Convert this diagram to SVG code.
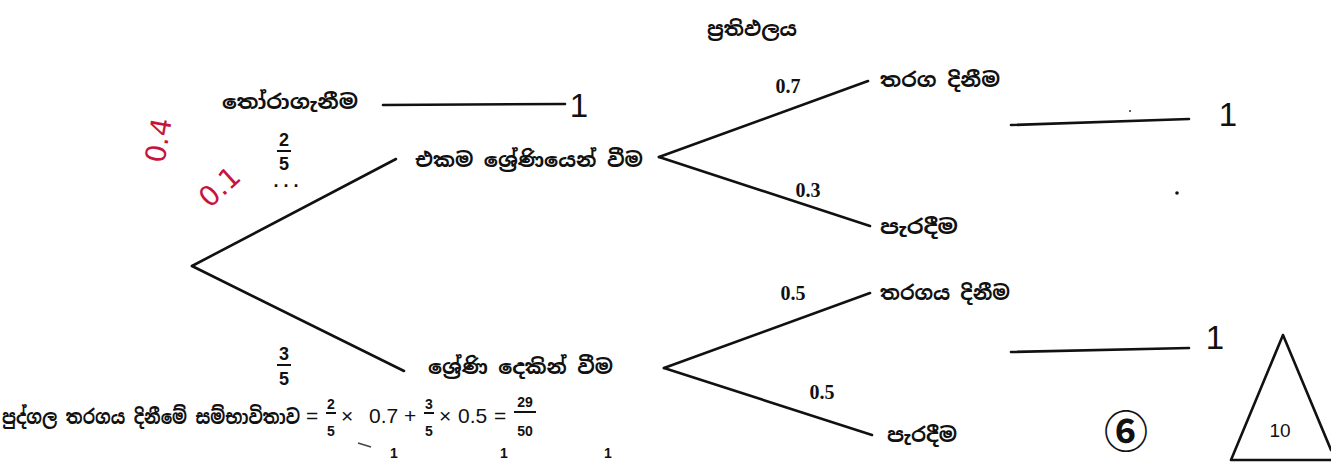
<svg xmlns="http://www.w3.org/2000/svg" width="1331" height="462" viewBox="0 0 1331 462">
<style>
.si{font-family:"Noto Sans Sinhala","Noto Sans","DejaVu Sans",sans-serif;font-weight:bold;font-size:20px;fill:#111}
.pr{font-family:"Liberation Serif",serif;font-weight:bold;font-size:20px;fill:#111;text-anchor:middle}
.fr{font-family:"Liberation Sans",sans-serif;font-weight:bold;font-size:18px;fill:#111;text-anchor:middle}
.ef{font-family:"Liberation Sans",sans-serif;font-weight:bold;font-size:14px;fill:#111;text-anchor:middle}
.eq{font-family:"Liberation Sans",sans-serif;font-size:21px;fill:#111}
.one{font-family:"Liberation Sans",sans-serif;font-size:33px;fill:#111;text-anchor:middle}
.hand{font-family:"DejaVu Sans",sans-serif;font-size:28px;fill:#c8143c}
.ln{stroke:#111;stroke-width:2.6;fill:none;stroke-linecap:round}
.bar{stroke:#111;stroke-width:2}
</style>
<rect width="1331" height="462" fill="#fff"/>
<g id="title"><text class="si" x="707" y="36" textLength="90" lengthAdjust="spacingAndGlyphs">ප්‍රතිඵලය</text></g>
<g id="connectors">
<path class="ln" d="M192 266 L396 159"/>
<path class="ln" d="M192 266 L404 371"/>
<path class="ln" d="M659 157 L868 81"/>
<path class="ln" d="M659 157 L870 226"/>
<path class="ln" d="M664 368 L870 293"/>
<path class="ln" d="M664 368 L872 435"/>
<path class="ln" d="M383 105 L565 104"/>
<path class="ln" d="M1011 125 L1189 119"/>
<path class="ln" d="M1011 352 L1189 348"/>
</g>
<g id="node-choose"><text class="si" x="222" y="109" textLength="136" lengthAdjust="spacingAndGlyphs">තෝරාගැනීම</text><text class="one" x="579" y="117">1</text></g>
<g id="frac-25">
<text class="fr" x="284" y="146">2</text><path class="bar" d="M277 151 L291 151"/><text class="fr" x="284" y="170">5</text>
<text class="fr" x="286" y="187" font-size="16">. . .</text>
</g>
<g id="annotations">
<text class="hand" transform="translate(168 142) rotate(-80)" text-anchor="middle">0.4</text>
<text class="hand" transform="translate(226 194) rotate(-42)" text-anchor="middle">0.1</text>
</g>
<g id="node-single"><text class="si" x="415" y="167" textLength="228" lengthAdjust="spacingAndGlyphs">එකම ශ්‍රේණියෙන් වීම</text></g>
<g id="node-win1"><text class="si" x="880" y="87" textLength="120" lengthAdjust="spacingAndGlyphs">තරග දිනීම</text><text class="pr" x="788" y="93">0.7</text></g>
<g id="node-lose1"><text class="si" x="880" y="234" textLength="78" lengthAdjust="spacingAndGlyphs">පැරදීම</text><text class="pr" x="808" y="197">0.3</text></g>
<g id="node-frac35"><text class="fr" x="284" y="360">3</text><path class="bar" d="M277 365 L291 365"/><text class="fr" x="284" y="385">5</text></g>
<g id="node-two"><text class="si" x="428" y="374" textLength="185" lengthAdjust="spacingAndGlyphs">ශ්‍රේණි දෙකින් වීම</text></g>
<g id="node-win2"><text class="si" x="880" y="300" textLength="130" lengthAdjust="spacingAndGlyphs">තරගය දිනීම</text><text class="pr" x="793" y="300">0.5</text></g>
<g id="node-lose2"><text class="si" x="887" y="442" textLength="70" lengthAdjust="spacingAndGlyphs">පැරදීම</text><text class="pr" x="822" y="399">0.5</text></g>
<g id="right-ones"><text class="one" x="1228" y="126">1</text><text class="one" x="1215" y="349">1</text>
<circle cx="1177" cy="193" r="1.8" fill="#111"/><circle cx="1130" cy="111" r="1" fill="#333"/></g>
<g id="equation">
<text class="si" x="2" y="424" textLength="298" lengthAdjust="spacingAndGlyphs">පුද්ගල තරගය දිනීමේ සම්භාවිතාව</text>
<text class="eq" x="306" y="423">=</text>
<text class="ef" x="331" y="409">2</text><path class="bar" d="M326 413 L336 413" stroke-width="1.6"/><text class="ef" x="331" y="436">5</text>
<text class="eq" x="341" y="423">×</text>
<text class="eq" x="369" y="423">0.7</text>
<text class="eq" x="404" y="423">+</text>
<text class="ef" x="429" y="409">3</text><path class="bar" d="M424 413 L434 413" stroke-width="1.6"/><text class="ef" x="429" y="436">5</text>
<text class="eq" x="439" y="423">×</text>
<text class="eq" x="458" y="423">0.5</text>
<text class="eq" x="494" y="423">=</text>
<text class="ef" x="525" y="407">29</text><path class="bar" d="M514 412 L536 412" stroke-width="1.6"/><text class="ef" x="525" y="436">50</text>
<text class="ef" x="394" y="458" font-size="17">1</text><text class="ef" x="504" y="458" font-size="17">1</text><text class="ef" x="608" y="458" font-size="17">1</text>
<path d="M358 443 L371 447" stroke="#444" stroke-width="1.5"/>
</g>
<g id="marks">
<text x="1126" y="448" font-family="Noto Sans CJK JP,DejaVu Sans,sans-serif" font-weight="bold" font-size="44" text-anchor="middle" fill="#111">⑥</text>
<path class="ln" d="M1283 335 L1231 460 M1283 335 L1331 450 M1231 460 L1331 460" stroke-width="3"/>
<text x="1280" y="437" font-family="Liberation Sans,sans-serif" font-size="19" text-anchor="middle" fill="#111">10</text>
</g>
</svg>
